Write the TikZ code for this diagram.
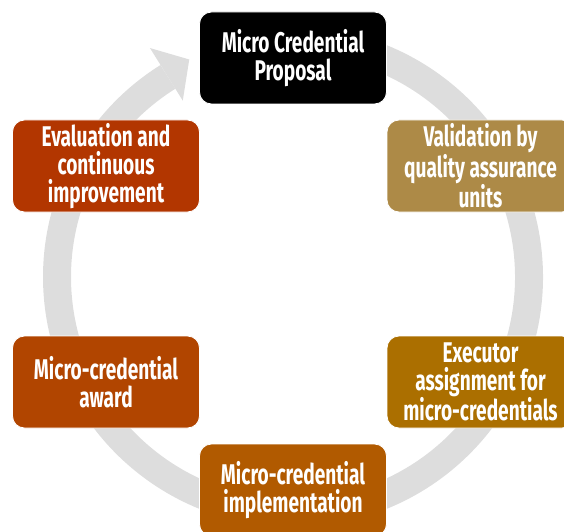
\documentclass[tikz,border=0pt]{standalone}
\usepackage{fontspec}
\newfontfamily\boxfont[FakeStretch=0.67,BoldFeatures={FakeStretch=0.67}]{Fira Sans}
\usetikzlibrary{calc}
\definecolor{ringgray}{HTML}{DDDDDD}
\definecolor{cProp}{HTML}{000000}
\definecolor{cVal}{HTML}{AD8A47}
\definecolor{cExe}{HTML}{AB6F00}
\definecolor{cImp}{HTML}{B15A00}
\definecolor{cAwd}{HTML}{B14500}
\definecolor{cEva}{HTML}{B23600}
\tikzset{
  stepbox/.style={rectangle, rounded corners=12pt, draw=white, line width=0.8pt,
    minimum width=187pt, minimum height=92pt, inner sep=2pt, align=center,
    text=white, font=\boxfont\bfseries\fontsize{28.5}{28}\selectfont},
  ring/.style={draw=ringgray, line width=28pt},
}
\begin{document}
\begin{tikzpicture}[x=1pt,y=1pt]
\useasboundingbox (0,0) rectangle (564,531);
\clip (0,0) rectangle (564,531);
\coordinate (c) at (293,254);
% cycle arrow
\draw[ring] ($(c)+(95:236)$) arc[start angle=95, end angle=-238, radius=236];
\fill[ringgray] ($(c)+(122:208)$) -- ($(c)+(115.5:241)$) -- ($(c)+(122:270)$) -- cycle;
% boxes
\node[stepbox, fill=cProp] (prop) at (293,473) {Micro Credential\\Proposal};
\node[stepbox, fill=cVal]  (val)  at (480.5,365) {Validation by\\quality assurance\\units};
\node[stepbox, fill=cExe]  (exe)  at (480.5,149) {Executor\\assignment for\\micro-credentials};
\node[stepbox, fill=cImp]  (imp)  at (293,41) {Micro-credential\\implementation};
\node[stepbox, fill=cAwd]  (awd)  at (106,149) {Micro-credential\\award};
\node[stepbox, fill=cEva]  (eva)  at (106,365) {Evaluation and\\continuous\\improvement};
\end{tikzpicture}
\end{document}
